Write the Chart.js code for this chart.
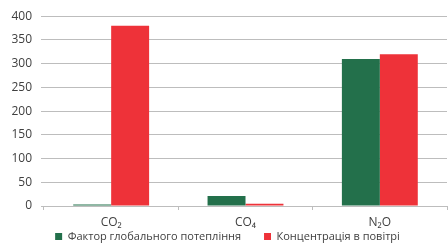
<!DOCTYPE html>
<html>
<head>
<meta charset="utf-8">
<script src="https://cdn.jsdelivr.net/npm/chart.js@4/dist/chart.umd.min.js"></script>
<style>
html,body{margin:0;padding:0;background:#fff;}
#wrap{width:448px;height:250px;position:relative;}
</style>
</head>
<body>
<div id="wrap"><canvas id="c" width="448" height="250"></canvas></div>
<script>
const categories = ['CO₂', 'CO₄', 'N₂O'];
const seriesNames = ['Фактор глобального потепління', 'Концентрація в повітрі'];
const gwpValues = [1, 21, 310];
const concValues = [380, 5, 320];
const yTicks = [0, 50, 100, 150, 200, 250, 300, 350, 400];

const GREEN = '#23704B';
const RED = '#EE3239';
const TEXT = '#404040';
const GRID = '#BDBDBD';
const FONT = "'Open Sans', sans-serif";

new Chart(document.getElementById('c'), {
  type: 'bar',
  data: {
    labels: categories,
    datasets: [
      { label: seriesNames[0], data: gwpValues, backgroundColor: GREEN, borderWidth: 0, minBarLength: 1.5 },
      { label: seriesNames[1], data: concValues, backgroundColor: RED, borderWidth: 0 }
    ]
  },
  options: {
    responsive: false,
    animation: false,
    devicePixelRatio: 1,
    layout: { padding: { top: 7, right: 1, left: 8, bottom: -2 } },
    datasets: { bar: { categoryPercentage: 0.565, barPercentage: 1.0 } },
    scales: {
      x: {
        offset: true,
        grid: { display: true, drawOnChartArea: false, offset: true, color: GRID, tickLength: 4, lineWidth: 1 },
        border: { display: true, color: GRID, width: 1 },
        ticks: { color: TEXT, font: { family: FONT, size: 12 }, padding: 5 },
        afterFit: s => { s.height = 25; }
      },
      y: {
        min: 0, max: 400,
        afterBuildTicks: s => { s.ticks = yTicks.map(v => ({ value: v })); },
        grid: { color: GRID, tickLength: 3, lineWidth: 1 },
        border: { display: false },
        ticks: { color: TEXT, font: { family: FONT, size: 12 }, padding: 9 },
        afterFit: s => { s.width = 36; }
      }
    },
    plugins: {
      legend: {
        position: 'bottom',
        labels: {
          color: TEXT, font: { family: FONT, size: 11 }, boxWidth: 7, boxHeight: 7, padding: 0,
          generateLabels: chart => {
            const items = Chart.defaults.plugins.legend.labels.generateLabels(chart);
            items.forEach((it, i) => { if (i < items.length - 1) it.text = it.text + '\u00A0\u00A0\u00A0\u00A0\u00A0\u00A0\u00A0\u00A0'; });
            return items;
          }
        }
      },
      tooltip: { enabled: false }
    }
  }
});
</script>
</body>
</html>
